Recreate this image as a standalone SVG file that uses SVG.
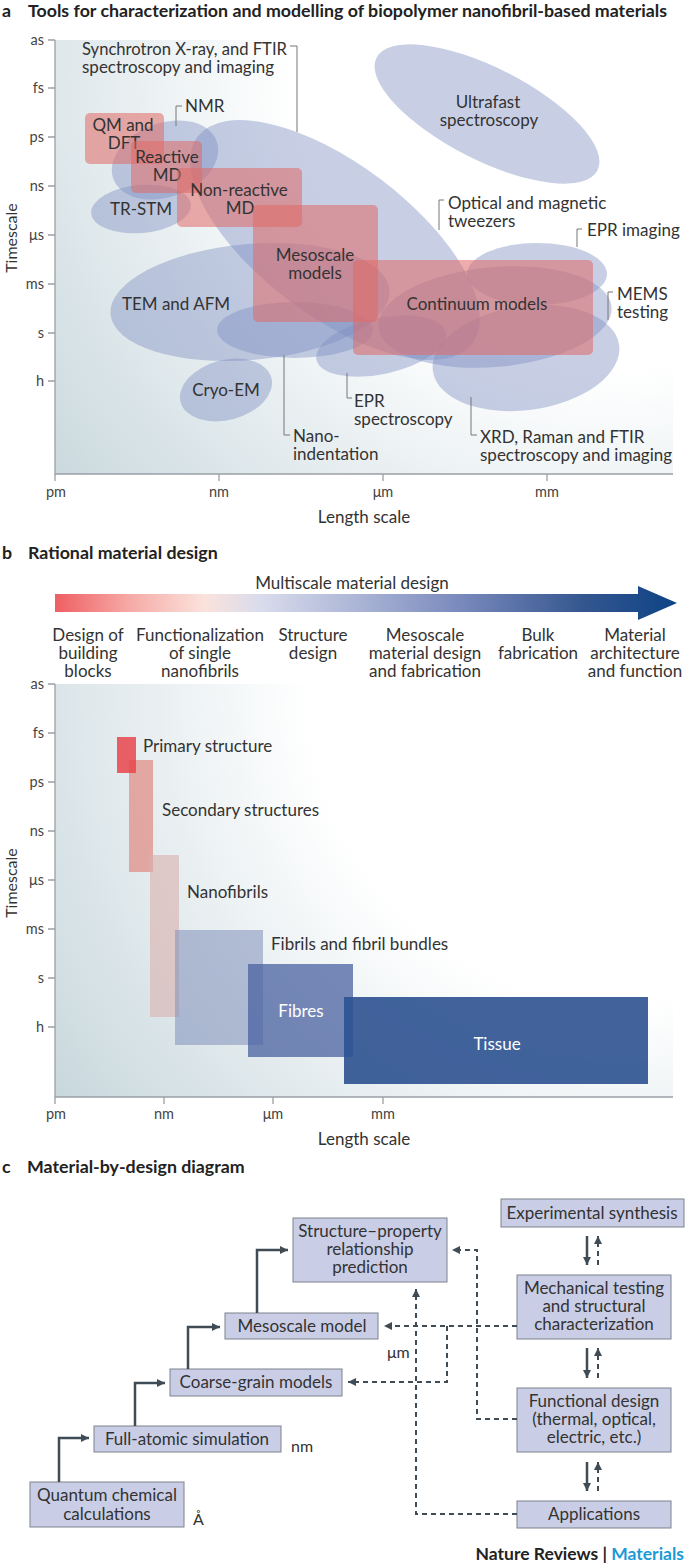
<svg xmlns="http://www.w3.org/2000/svg" width="685" height="1565" viewBox="0 0 685 1565">
<defs>
<radialGradient id="bgA" gradientUnits="userSpaceOnUse" cx="610" cy="50" r="760">
<stop offset="0" stop-color="#ffffff"/>
<stop offset="0.42" stop-color="#ffffff"/>
<stop offset="1" stop-color="#c2d3d9"/>
</radialGradient>
<radialGradient id="bgB" gradientUnits="userSpaceOnUse" cx="620" cy="690" r="740">
<stop offset="0" stop-color="#ffffff"/>
<stop offset="0.42" stop-color="#ffffff"/>
<stop offset="1" stop-color="#c2d3d9"/>
</radialGradient>
<linearGradient id="ms" gradientUnits="userSpaceOnUse" x1="55" y1="0" x2="677" y2="0">
<stop offset="0" stop-color="#ef5f63"/>
<stop offset="0.12" stop-color="#f6aaa6"/>
<stop offset="0.24" stop-color="#fbe2dc"/>
<stop offset="0.33" stop-color="#d9dcec"/>
<stop offset="0.45" stop-color="#b6bedb"/>
<stop offset="0.65" stop-color="#7a8abd"/>
<stop offset="0.85" stop-color="#34568f"/>
<stop offset="1" stop-color="#0d4386"/>
</linearGradient>
<marker id="ah" viewBox="0 0 10 10" refX="10" refY="5" markerWidth="9" markerHeight="8" markerUnits="userSpaceOnUse" orient="auto">
<path d="M0,0 L10,5 L0,10 Z" fill="#3f4b55"/>
</marker>
</defs>
<style>
text{font-family:Lato,"Liberation Sans",sans-serif;fill:#333333}
.t{font-size:17px}
.c{text-anchor:middle}
.tk{font-size:14.5px;text-anchor:end;fill:#444444}
.xl{font-size:14.5px;text-anchor:middle;fill:#444444}
.ttl{font-size:17.8px;font-weight:bold;fill:#222222}
.ax{stroke:#9aa0a6;stroke-width:1.3;fill:none}
.br{stroke:#777777;stroke-width:1;fill:none}
.el{fill:#7c8cc0;fill-opacity:0.42}
.rr{fill:#e06a66;fill-opacity:0.55}
.box{fill:#c9cee6;stroke:#7d828c;stroke-width:1}
.sa{stroke:#3f4b55;stroke-width:2.5;fill:none}
.da{stroke:#3f4b55;stroke-width:2;fill:none;stroke-dasharray:5 4}
.w{fill:#ffffff}
.sm{font-size:16px}
</style>

<!-- Panel a -->
<g id="panel-a-title">
<text x="2" y="16.5" class="ttl">a</text>
<text x="28" y="16.5" class="ttl">Tools for characterization and modelling of biopolymer nanofibril-based materials</text>
</g>
<g id="panel-a-axes">
<rect x="55" y="40" width="618" height="434" fill="url(#bgA)"/>
<path class="ax" d="M55,40 V474 H673"/>
<path class="ax" d="M48,40 H55 M48,88 H55 M48,137 H55 M48,186 H55 M48,235 H55 M48,284 H55 M48,333 H55 M48,381 H55 M55,474 V481 M219,474 V481 M383,474 V481 M547,474 V481"/>
<text x="44" y="45" class="tk">as</text>
<text x="44" y="93" class="tk">fs</text>
<text x="44" y="142" class="tk">ps</text>
<text x="44" y="191" class="tk">ns</text>
<text x="44" y="240" class="tk">μs</text>
<text x="44" y="289" class="tk">ms</text>
<text x="44" y="338" class="tk">s</text>
<text x="44" y="386" class="tk">h</text>
<text x="56" y="497" class="xl">pm</text>
<text x="219" y="497" class="xl">nm</text>
<text x="383" y="497" class="xl">μm</text>
<text x="547" y="497" class="xl">mm</text>
<text x="364" y="523" class="t c">Length scale</text>
<text transform="translate(17 238) rotate(-90)" class="sm c">Timescale</text>
</g>
<g id="node-ultrafast">
<ellipse class="el" cx="487" cy="114" rx="124" ry="46" transform="rotate(27 487 114)"/>
<text x="488" y="108" class="t c">Ultrafast</text>
<text x="489" y="126" class="t c">spectroscopy</text>
</g>
<g id="node-synchrotron">
<ellipse class="el" cx="335" cy="240" rx="172" ry="76" transform="rotate(37 335 240)"/>
<text x="82" y="55" class="t" textLength="205" lengthAdjust="spacingAndGlyphs">Synchrotron X-ray, and FTIR</text>
<text x="82" y="73" class="t">spectroscopy and imaging</text>
<path class="br" d="M290,46 H297 V132"/>
</g>
<g id="node-nmr">
<ellipse class="el" cx="165" cy="160" rx="55" ry="37" transform="rotate(-20 165 160)"/>
<text x="185" y="112" class="t">NMR</text>
<path class="br" d="M182,106 H176 V126"/>
</g>
<g id="node-trstm">
<ellipse class="el" cx="141" cy="209" rx="50" ry="24" transform="rotate(-5 141 209)"/>
<text x="141" y="215" class="t c">TR-STM</text>
</g>
<g id="node-tem">
<ellipse class="el" cx="250" cy="302" rx="140" ry="58" transform="rotate(-5 250 302)"/>
<text x="176" y="310" class="t c">TEM and AFM</text>
</g>
<g id="node-nano">
<ellipse class="el" cx="295" cy="330" rx="78" ry="28"/>
<text x="293" y="442" class="t">Nano-</text>
<text x="293" y="460" class="t">indentation</text>
<path class="br" d="M284,355 V435 H290"/>
</g>
<g id="node-eprspec">
<ellipse class="el" cx="381" cy="346" rx="66" ry="28" transform="rotate(-12 381 346)"/>
<text x="354" y="407" class="t">EPR</text>
<text x="354" y="425" class="t">spectroscopy</text>
<path class="br" d="M347,373 V398 H352"/>
</g>
<g id="node-cryo">
<ellipse class="el" cx="226" cy="390" rx="47" ry="30" transform="rotate(-15 226 390)"/>
<text x="226" y="396" class="t c">Cryo-EM</text>
</g>
<g id="node-eprimg">
<ellipse class="el" cx="537" cy="274" rx="70" ry="31"/>
<text x="587" y="236" class="t">EPR imaging</text>
<path class="br" d="M582,229 H577 V247"/>
</g>
<g id="node-mems">
<ellipse class="el" cx="495" cy="317" rx="117" ry="50" transform="rotate(-5 495 317)"/>
<text x="617" y="300" class="t">MEMS</text>
<text x="617" y="318" class="t">testing</text>
<path class="br" d="M613,292 H608 V320"/>
</g>
<g id="node-xrd">
<ellipse class="el" cx="526" cy="358" rx="94" ry="52" transform="rotate(-8 526 358)"/>
<text x="480" y="443" class="t">XRD, Raman and FTIR</text>
<text x="480" y="461" class="t">spectroscopy and imaging</text>
<path class="br" d="M471,397 V435 H477"/>
</g>
<g id="node-optical">
<text x="448" y="209" class="t">Optical and magnetic</text>
<text x="448" y="227" class="t">tweezers</text>
<path class="br" d="M444,200 H439 V230"/>
</g>
<g id="node-qm">
<rect class="rr" x="85" y="113" width="79" height="51" rx="5"/>
<text x="123" y="131" class="t c">QM and</text>
<text x="124" y="149" class="t c">DFT</text>
</g>
<g id="node-reactive">
<rect class="rr" x="131" y="141" width="71" height="52" rx="5"/>
<text x="167" y="163" class="t c">Reactive</text>
<text x="167" y="181" class="t c">MD</text>
</g>
<g id="node-nonreactive">
<rect class="rr" x="177" y="168" width="125" height="59" rx="5"/>
<text x="239" y="196" class="t c">Non-reactive</text>
<text x="240" y="214" class="t c">MD</text>
</g>
<g id="node-mesoscale">
<rect class="rr" x="253" y="205" width="125" height="117" rx="5"/>
<text x="315" y="261" class="t c">Mesoscale</text>
<text x="315" y="279" class="t c">models</text>
</g>
<g id="node-continuum">
<rect class="rr" x="353" y="260" width="240" height="95" rx="5"/>
<text x="477" y="310" class="t c">Continuum models</text>
</g>

<!-- Panel b -->
<g id="panel-b-title">
<text x="2" y="559" class="ttl">b</text>
<text x="28" y="559" class="ttl">Rational material design</text>
</g>
<g id="node-multiscale-arrow">
<text x="352" y="589" class="t c">Multiscale material design</text>
<path d="M55,594 H638 V586 L677,603 L638,620 V612 H55 Z" fill="url(#ms)"/>
<text class="t c"><tspan x="88" y="641">Design of</tspan><tspan x="88" y="659">building</tspan><tspan x="88" y="677">blocks</tspan></text>
<text class="t c"><tspan x="200" y="641">Functionalization</tspan><tspan x="200" y="659">of single</tspan><tspan x="200" y="677">nanofibrils</tspan></text>
<text class="t c"><tspan x="313" y="641">Structure</tspan><tspan x="313" y="659">design</tspan></text>
<text class="t c"><tspan x="425" y="641">Mesoscale</tspan><tspan x="425" y="659">material design</tspan><tspan x="425" y="677">and fabrication</tspan></text>
<text class="t c"><tspan x="538" y="641">Bulk</tspan><tspan x="538" y="659">fabrication</tspan></text>
<text class="t c"><tspan x="635" y="641">Material</tspan><tspan x="635" y="659">architecture</tspan><tspan x="635" y="677">and function</tspan></text>
</g>
<g id="panel-b-axes">
<rect x="55" y="684" width="618" height="413" fill="url(#bgB)"/>
<path class="ax" d="M55,684 V1097 H673"/>
<path class="ax" d="M48,684 H55 M48,733 H55 M48,782 H55 M48,831 H55 M48,880 H55 M48,929 H55 M48,978 H55 M48,1027 H55 M55,1097 V1104 M164,1097 V1104 M273,1097 V1104 M383,1097 V1104"/>
<text x="44" y="689" class="tk">as</text>
<text x="44" y="738" class="tk">fs</text>
<text x="44" y="787" class="tk">ps</text>
<text x="44" y="836" class="tk">ns</text>
<text x="44" y="885" class="tk">μs</text>
<text x="44" y="934" class="tk">ms</text>
<text x="44" y="983" class="tk">s</text>
<text x="44" y="1032" class="tk">h</text>
<text x="56" y="1119" class="xl">pm</text>
<text x="164" y="1119" class="xl">nm</text>
<text x="273" y="1119" class="xl">μm</text>
<text x="383" y="1119" class="xl">mm</text>
<text x="364" y="1145" class="t c">Length scale</text>
<text transform="translate(17 883) rotate(-90)" class="sm c">Timescale</text>
</g>
<g id="node-secondary">
<rect x="129" y="760" width="24" height="112" fill="#e07870" fill-opacity="0.6"/>
<text x="162" y="816" class="t">Secondary structures</text>
</g>
<g id="node-primary">
<rect x="117" y="737" width="19" height="36" fill="#e8474c" fill-opacity="0.85"/>
<text x="143" y="752" class="t">Primary structure</text>
</g>
<g id="node-nanofibrils">
<rect x="150" y="855" width="29" height="162" fill="#d9b0ad" fill-opacity="0.6"/>
<text x="187" y="898" class="t">Nanofibrils</text>
</g>
<g id="node-fibrils">
<rect x="175" y="930" width="88" height="115" fill="#7f90ba" fill-opacity="0.55"/>
<text x="271" y="950" class="t">Fibrils and fibril bundles</text>
</g>
<g id="node-fibres">
<rect x="248" y="964" width="105" height="93" fill="#4a61a0" fill-opacity="0.75"/>
<text x="301" y="1017" class="t c w">Fibres</text>
</g>
<g id="node-tissue">
<rect x="344" y="997" width="304" height="87" fill="#2c5190" fill-opacity="0.9"/>
<text x="497" y="1050" class="t c w">Tissue</text>
</g>

<!-- Panel c -->
<g id="panel-c-title">
<text x="2" y="1173" class="ttl">c</text>
<text x="27" y="1173" class="ttl">Material-by-design diagram</text>
</g>
<g id="node-quantum">
<rect class="box" x="30" y="1482" width="154" height="45"/>
<text x="107" y="1501" class="t c">Quantum chemical</text>
<text x="107" y="1520" class="t c">calculations</text>
<text x="193" y="1525" class="sm">Å</text>
</g>
<g id="node-fullatomic">
<rect class="box" x="94" y="1426" width="187" height="26"/>
<text x="187" y="1445" class="t c">Full-atomic simulation</text>
<text x="291" y="1452" class="sm">nm</text>
</g>
<g id="node-coarse">
<rect class="box" x="170" y="1369" width="172" height="27"/>
<text x="256" y="1388" class="t c">Coarse-grain models</text>
</g>
<g id="node-mesomodel">
<rect class="box" x="225" y="1313" width="153" height="26"/>
<text x="302" y="1332" class="t c">Mesoscale model</text>
<text x="387" y="1358" class="sm">μm</text>
</g>
<g id="node-structprop">
<rect class="box" x="293" y="1218" width="154" height="64"/>
<text x="370" y="1237" class="t c">Structure–property</text>
<text x="370" y="1255" class="t c">relationship</text>
<text x="370" y="1273" class="t c">prediction</text>
</g>
<g id="node-experimental">
<rect class="box" x="501" y="1199" width="183" height="28"/>
<text x="592" y="1219" class="t c">Experimental synthesis</text>
</g>
<g id="node-mechanical">
<rect class="box" x="517" y="1275" width="154" height="64"/>
<text x="594" y="1294" class="t c">Mechanical testing</text>
<text x="594" y="1312" class="t c">and structural</text>
<text x="594" y="1330" class="t c">characterization</text>
</g>
<g id="node-functional">
<rect class="box" x="517" y="1388" width="154" height="64"/>
<text x="594" y="1407" class="t c">Functional design</text>
<text x="594" y="1425" class="t c">(thermal, optical,</text>
<text x="594" y="1443" class="t c">electric, etc.)</text>
</g>
<g id="node-applications">
<rect class="box" x="517" y="1501" width="154" height="27"/>
<text x="594" y="1520" class="t c">Applications</text>
</g>
<g id="connectors">
<path class="sa" d="M59,1482 V1438 H89" marker-end="url(#ah)"/>
<path class="sa" d="M135,1426 V1383 H165" marker-end="url(#ah)"/>
<path class="sa" d="M188,1369 V1327 H220" marker-end="url(#ah)"/>
<path class="sa" d="M257,1313 V1250 H288" marker-end="url(#ah)"/>
<path class="sa" d="M587,1236 V1265" marker-end="url(#ah)"/>
<path class="da" d="M598,1265 V1236" marker-end="url(#ah)"/>
<path class="sa" d="M587,1348 V1378" marker-end="url(#ah)"/>
<path class="da" d="M598,1378 V1348" marker-end="url(#ah)"/>
<path class="sa" d="M587,1462 V1491" marker-end="url(#ah)"/>
<path class="da" d="M598,1491 V1462" marker-end="url(#ah)"/>
<path class="da" d="M517,1419 H477 V1250 H452" marker-end="url(#ah)"/>
<path class="da" d="M517,1326 H384" marker-end="url(#ah)"/>
<path class="da" d="M447,1326 V1382 H348" marker-end="url(#ah)"/>
<path class="da" d="M517,1514 H416 V1289" marker-end="url(#ah)"/>
</g>
<g id="credit">
<text x="684" y="1560" text-anchor="end" style="font-size:17.5px;font-weight:bold"><tspan fill="#222222">Nature Reviews | </tspan><tspan fill="#1a9ad6">Materials</tspan></text>
</g>
</svg>
